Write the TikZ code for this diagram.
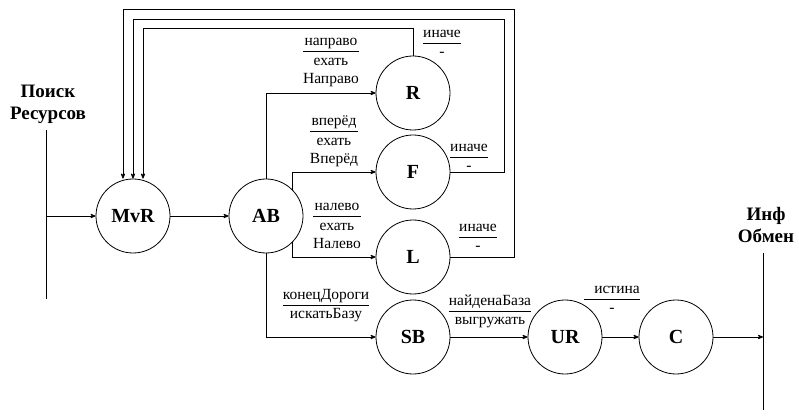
\documentclass[tikz,border=0pt]{standalone}
\usepackage{fontspec}
\setmainfont{Liberation Serif}
\usepackage{tikz}
\usetikzlibrary{arrows}
\tikzset{state/.style={draw, circle, line width=.8pt, minimum size=74pt, inner sep=0pt, font=\fontsize{20}{24}\selectfont\bfseries}}
\tikzset{lbl/.style={inner sep=0pt, font=\fontsize{15.5}{18.6}\selectfont}}
\tikzset{io/.style={inner sep=0pt, align=center, font=\fontsize{19}{22}\selectfont\bfseries}}
\tikzset{link/.style={black, line width=.8pt, ->, >=stealth'}}
\setlength{\arrayrulewidth}{.8pt}
\newcommand{\cond}[2]{\begin{tabular}{@{}c@{}}#1\\\hline #2\end{tabular}}

\begin{document}
\begin{tikzpicture}[x=1pt,y=-1pt]
\useasboundingbox (0,0) rectangle (799,419);
\foreach \n/\x/\y in {MvR/133/216,AB/266/216,R/413/93,F/413/172,L/413/257,SB/413/337,UR/565/337,C/676/337}
 \node[state] (\n) at (\x,\y) {\n};
\node[io] (inLbl) at (48,104) {Поиск\\Ресурсов};
\node[io] (outLbl) at (766,225) {Инф\\Обмен};
\coordinate (inTop) at (46,130);
\coordinate (inBot) at (46,299);
\coordinate (outTop) at (763,253);
\coordinate (outBot) at (763,410);
\draw[line width=.8pt] (inTop) -- (inBot);
\draw[line width=.8pt] (outTop) -- (outBot);
\draw[link] (inTop |- MvR) -- (MvR);
\draw[link] (MvR) -- (AB);
\draw[link] (AB.north) |- (R);
\draw[link] (AB.45) |- (F);
\draw[link] (AB.-45) |- (L);
\draw[link] (AB.south) |- (SB);
\draw[link] (SB) -- (UR);
\draw[link] (UR) -- (C);
\draw[link] (C) -- (C -| outTop);
\draw[link] (R.north) -- ++(0,-27) -| ([xshift=10pt]MvR.north);
\draw[link] (F.east) -| (504,19) -| (MvR.north);
\draw[link] (L.east) -| (514,9) -| ([xshift=-10pt]MvR.north);
\node[lbl] (tR) at (331,61) {\cond{направо}{ехать\\Направо}};
\node[lbl] (tF) at (334,141) {\cond{вперёд}{ехать\\Вперёд}};
\node[lbl] (tL) at (337,226) {\cond{налево}{ехать\\Налево}};
\node[lbl] (tSB) at (326,305) {\cond{конецДороги}{искатьБазу}};
\node[lbl] (eR) at (442,43) {\cond{иначе}{-}};
\node[lbl] (eF) at (469,157) {\cond{иначе}{-}};
\node[lbl] (eL) at (478,237) {\cond{иначе}{-}};
\node[lbl] (tUR) at (490,311) {\cond{найденаБаза}{выгружать}};
\node[lbl] (tC) at (612,299) {\cond{\hspace{10pt}истина\hspace{10pt}}{-}};
\end{tikzpicture}
\end{document}
